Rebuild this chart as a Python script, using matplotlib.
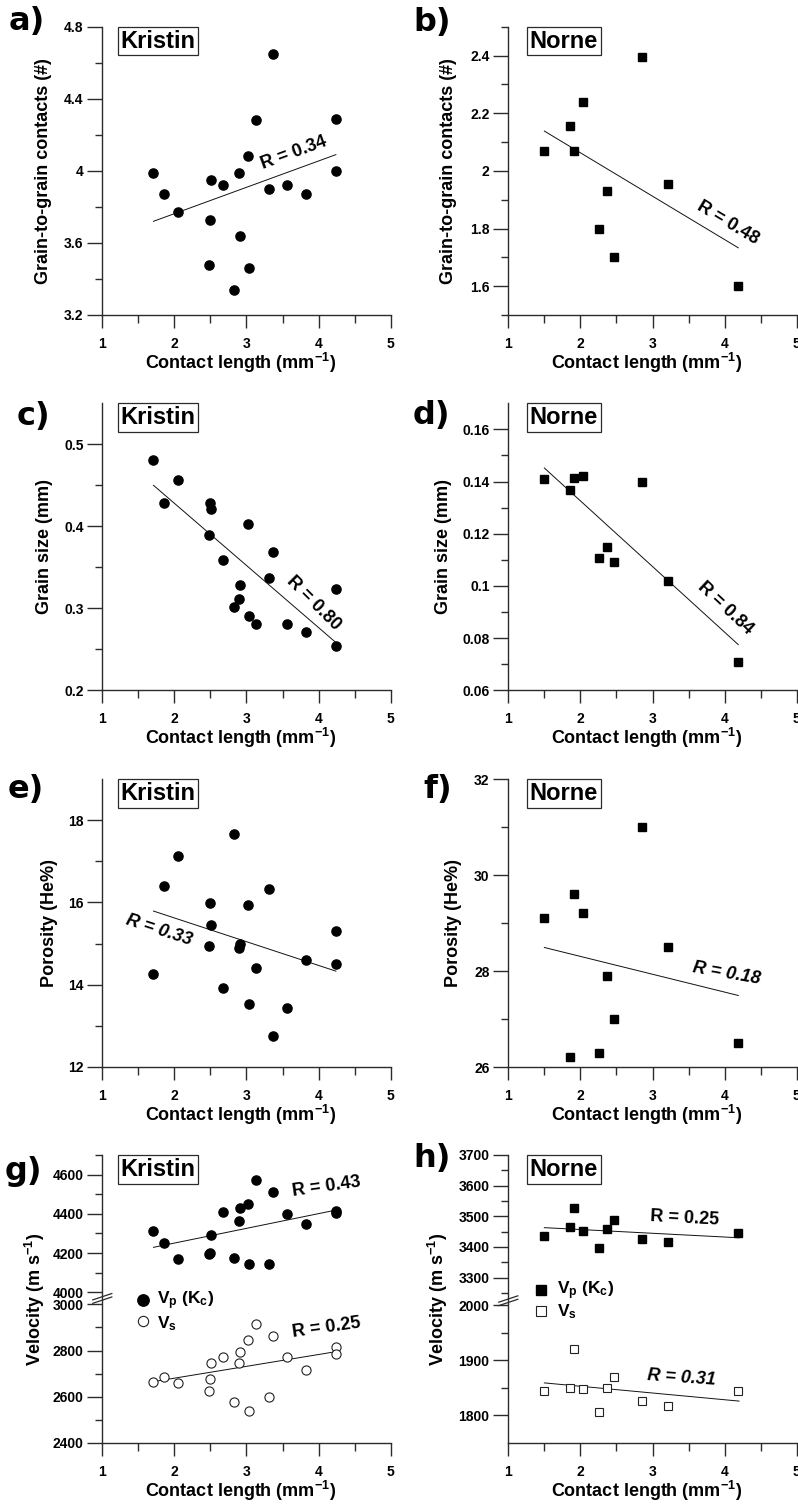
import numpy as np
import matplotlib
matplotlib.use("Agg")
import matplotlib.pyplot as plt

plt.rcParams['font.family'] = ['Liberation Sans', 'DejaVu Sans']
plt.rcParams['font.weight'] = 'bold'
plt.rcParams['mathtext.fontset'] = 'custom'
plt.rcParams['mathtext.rm'] = 'Liberation Sans:bold'
plt.rcParams['mathtext.bf'] = 'Liberation Sans:bold'
plt.rcParams['mathtext.it'] = 'Liberation Sans:italic:bold'
plt.rcParams['mathtext.default'] = 'bf'

# ---------------- data ----------------
kristin_cl = [1.71, 1.85, 2.05, 2.48, 2.49, 2.51, 2.68, 2.83, 2.89, 2.91,
              3.02, 3.03, 3.13, 3.31, 3.37, 3.56, 3.82, 4.24, 4.24]
kristin_contacts = [3.99, 3.87, 3.77, 3.48, 3.73, 3.95, 3.92, 3.34, 3.99, 3.64,
                    4.08, 3.46, 4.28, 3.90, 4.65, 3.92, 3.87, 4.29, 4.00]
kristin_grain = [0.481, 0.428, 0.456, 0.389, 0.429, 0.421, 0.359, 0.301, 0.311, 0.328,
                 0.403, 0.290, 0.281, 0.337, 0.369, 0.281, 0.271, 0.324, 0.254]
kristin_poro = [14.26, 16.41, 17.14, 14.93, 15.98, 15.44, 13.91, 17.67, 14.89, 14.99,
                15.93, 13.53, 14.41, 16.32, 12.76, 13.43, 14.60, 15.30, 14.51]
kristin_vp = [4311, 4249, 4168, 4195, 4200, 4294, 4408, 4175, 4362, 4431,
              4450, 4146, 4570, 4144, 4511, 4399, 4350, 4414, 4406]
kristin_vs = [2663, 2685, 2659, 2627, 2678, 2745, 2771, 2577, 2748, 2794,
              2845, 2538, 2915, 2598, 2862, 2770, 2717, 2816, 2783]

norne_cl = [1.50, 1.86, 1.91, 2.03, 2.26, 2.37, 2.47, 2.85, 3.21, 4.19]
norne_contacts = [2.07, 2.155, 2.07, 2.24, 1.80, 1.93, 1.70, 2.395, 1.955, 1.60]
norne_grain = [0.1409, 0.1368, 0.1414, 0.1423, 0.1108, 0.1148, 0.1093, 0.1400, 0.1020, 0.0710]
norne_poro = [29.1, 26.2, 29.6, 29.2, 26.3, 27.9, 27.0, 31.0, 28.5, 26.5]
norne_vp = [3435, 3465, 3528, 3451, 3398, 3459, 3489, 3425, 3416, 3447]
norne_vs = [1845, 1849, 1920, 1848, 1806, 1850, 1869, 1827, 1817, 1844]

# regression lines (end points)
fit_a = ([1.71, 4.24], [3.72, 4.09])
fit_b = ([1.50, 4.19], [2.138, 1.733])
fit_c = ([1.71, 4.23], [0.450, 0.259])
fit_d = ([1.50, 4.19], [0.1452, 0.0775])
fit_e = ([1.71, 4.24], [15.79, 14.33])
fit_f = ([1.50, 4.19], [28.49, 27.49])
fit_g_vp = ([1.71, 4.24], [4229, 4419])
fit_g_vs = ([1.70, 4.24], [2665, 2795])
fit_h_vp = ([1.50, 4.20], [3463, 3430])
fit_h_vs = ([1.50, 4.20], [1859, 1826])

x_ticks = [1, 2, 3, 4, 5]
x_minor = [1.5, 2.5, 3.5, 4.5]
x_label = r"Contact length (mm$^{\mathbf{-1}}$)"

# ---------------- figure ----------------
W, H = 798, 1506
fig = plt.figure(figsize=(W / 100, H / 100), dpi=100)
fig.patch.set_facecolor('white')

col_left = [102.3, 508.3]
col_w = 288.4
rows = [(26.7, 315.0), (403.3, 690.3), (779.0, 1067.0), (1155.0, 1443.0)]
SPC = '#2b2b2b'


def make_ax(col, row):
    l = col_left[col]
    t, b = rows[row]
    return fig.add_axes([l / W, 1 - b / H, col_w / W, (b - t) / H])


def piecewise(vals, pos):
    vals = np.asarray(vals, float)
    pos = np.asarray(pos, float)

    def mk(a, b):
        s0 = (b[1] - b[0]) / (a[1] - a[0])
        s1 = (b[-1] - b[-2]) / (a[-1] - a[-2])

        def f(y):
            y = np.asarray(y, float)
            out = np.interp(y, a, b)
            out = np.where(y < a[0], b[0] + (y - a[0]) * s0, out)
            out = np.where(y > a[-1], b[-1] + (y - a[-1]) * s1, out)
            return out
        return f
    return mk(vals, pos), mk(pos, vals)


def style(ax, ylim, yticks, ylabels, yminor, ylabel, ylab_x):
    for s in ['top', 'right']:
        ax.spines[s].set_visible(False)
    for s in ['left', 'bottom']:
        ax.spines[s].set_linewidth(1.0)
        ax.spines[s].set_color(SPC)
    ax.set_xlim(1, 5)
    ax.set_ylim(*ylim)
    ax.set_xticks(x_ticks)
    ax.set_xticklabels([str(v) for v in x_ticks], fontweight='bold')
    ax.set_xticks(x_minor, minor=True)
    ax.set_yticks(yticks)
    ax.set_yticklabels(ylabels, fontweight='bold')
    ax.set_yticks(yminor, minor=True)
    ax.tick_params(axis='both', which='both', color=SPC, width=1.0, direction='out')
    ax.tick_params(axis='y', which='major', length=10.5, pad=3, labelsize=10)
    ax.tick_params(axis='y', which='minor', length=5)
    ax.tick_params(axis='x', which='major', length=9.5, pad=6, labelsize=10)
    ax.tick_params(axis='x', which='minor', length=5.5)
    ax.set_xlabel(x_label, fontsize=13, fontweight='bold')
    ax.xaxis.set_label_coords(0.48, -0.165)
    ax.xaxis.label.set_va('center')
    ax.set_ylabel(ylabel, fontsize=13, fontweight='bold')
    ax.yaxis.set_label_coords(ylab_x, 0.5)
    ax.yaxis.label.set_va('center')


def site_box(ax, name):
    ax.text(0.193, 0.95, name, transform=ax.transAxes, fontsize=17, fontweight='bold',
            ha='center', va='center',
            bbox=dict(boxstyle='square,pad=0.12', fc='white', ec=SPC, lw=0.9))


def rlabel(ax, x, y, txt, rot, italic=False):
    ax.text(x, y, txt, fontsize=13, fontweight='bold', rotation=rot,
            rotation_mode='anchor', ha='center', va='center',
            style='italic' if italic else 'normal')


def fitline(ax, fit):
    ax.plot(fit[0], fit[1], color='#111111', lw=0.7, zorder=2)


def circles(ax, x, y, filled=True, ms=6.6):
    if filled:
        ax.plot(x, y, 'o', ms=ms, color='black', mec='black', ls='none', zorder=3)
    else:
        ax.plot(x, y, 'o', ms=ms, mfc='white', mec='#222222', mew=0.8, ls='none', zorder=3)


def squares(ax, x, y, filled=True, ms=6.4):
    if filled:
        ax.plot(x, y, 's', ms=ms, color='black', mec='black', ls='none', zorder=3)
    else:
        ax.plot(x, y, 's', ms=ms, mfc='white', mec='#222222', mew=0.8, ls='none', zorder=3)


def break_mark(ax, yfrac):
    for dy in (-0.006, 0.006):
        ax.plot([-0.033, 0.033], [yfrac - 0.011 + dy, yfrac + 0.011 + dy],
                transform=ax.transAxes, color=SPC, lw=0.9, clip_on=False, zorder=5)


# ---- a ----
ax = make_ax(0, 0)
style(ax, (3.2, 4.8), [3.2, 3.6, 4.0, 4.4, 4.8], ['3.2', '3.6', '4', '4.4', '4.8'],
      [3.4, 3.8, 4.2, 4.6], 'Grain-to-grain contacts (#)', -0.205)
fitline(ax, fit_a)
circles(ax, kristin_cl, kristin_contacts)
site_box(ax, 'Kristin')
rlabel(ax, 3.65, 4.10, 'R = 0.34', 20)

# ---- b ----
ax = make_ax(1, 0)
style(ax, (1.5, 2.5), [1.6, 1.8, 2.0, 2.2, 2.4], ['1.6', '1.8', '2', '2.2', '2.4'],
      [1.5, 1.7, 1.9, 2.1, 2.3, 2.5], 'Grain-to-grain contacts (#)', -0.208)
fitline(ax, fit_b)
squares(ax, norne_cl, norne_contacts)
site_box(ax, 'Norne')
rlabel(ax, 4.05, 1.82, 'R = 0.48', -31)

# ---- c ----
ax = make_ax(0, 1)
style(ax, (0.2, 0.55), [0.2, 0.3, 0.4, 0.5], ['0.2', '0.3', '0.4', '0.5'],
      [0.25, 0.35, 0.45], 'Grain size (mm)', -0.199)
fitline(ax, fit_c)
circles(ax, kristin_cl, kristin_grain)
site_box(ax, 'Kristin')
rlabel(ax, 3.93, 0.306, 'R = 0.80', -45)

# ---- d ----
ax = make_ax(1, 1)
style(ax, (0.06, 0.17), [0.06, 0.08, 0.10, 0.12, 0.14, 0.16],
      ['0.06', '0.08', '0.1', '0.12', '0.14', '0.16'],
      [0.07, 0.09, 0.11, 0.13, 0.15], 'Grain size (mm)', -0.225)
fitline(ax, fit_d)
squares(ax, norne_cl, norne_grain)
site_box(ax, 'Norne')
rlabel(ax, 4.01, 0.0915, 'R = 0.84', -43)

# ---- e ----
ax = make_ax(0, 2)
style(ax, (12, 19), [12, 14, 16, 18], ['12', '14', '16', '18'],
      [13, 15, 17], 'Porosity (He%)', -0.184)
fitline(ax, fit_e)
circles(ax, kristin_cl, kristin_poro)
site_box(ax, 'Kristin')
rlabel(ax, 1.79, 15.32, 'R = 0.33', -18, italic=True)

# ---- f ----
ax = make_ax(1, 2)
style(ax, (26, 32), [26, 28, 30, 32], ['26', '28', '30', '32'],
      [27, 29, 31], 'Porosity (He%)', -0.191)
fitline(ax, fit_f)
squares(ax, norne_cl, norne_poro)
site_box(ax, 'Norne')
rlabel(ax, 4.03, 27.94, 'R = 0.18', -10, italic=True)

# ---- g ----
ax = make_ax(0, 3)
fwd, inv = piecewise([2400, 3000, 4000, 4700], [0, 138.6, 150.6, 287.7])
ax.set_yscale('function', functions=(fwd, inv))
g_major = [2400, 2600, 2800, 3000, 4000, 4200, 4400, 4600]
style(ax, (2400, 4700), g_major, [str(v) for v in g_major],
      [2500, 2700, 2900, 4100, 4300, 4500, 4700], r'Velocity (m s$^{\mathbf{-1}}$)', -0.233)
fitline(ax, fit_g_vp)
fitline(ax, fit_g_vs)
circles(ax, kristin_cl, kristin_vp)
circles(ax, kristin_cl, kristin_vs, filled=False)
site_box(ax, 'Kristin')
rlabel(ax, 4.11, 4538, 'R = 0.43', 8)
rlabel(ax, 4.11, 2900, 'R = 0.25', 8)
break_mark(ax, 0.502)
ax.plot([0.142], [0.4965], 'o', ms=8.2, color='black', transform=ax.transAxes, clip_on=False)
ax.plot([0.142], [0.425], 'o', ms=7.4, mfc='white', mec='#222222', mew=0.8,
        transform=ax.transAxes, clip_on=False)
ax.text(0.189, 0.481, r'V$_\mathbf{p}$ (K$_\mathbf{c}$)', transform=ax.transAxes,
        fontsize=12.5, fontweight='bold', ha='left', va='baseline')
ax.text(0.189, 0.398, r'V$_\mathbf{s}$', transform=ax.transAxes,
        fontsize=12.5, fontweight='bold', ha='left', va='baseline')

# ---- h ----
ax = make_ax(1, 3)
fwd, inv = piecewise([1750, 2000, 3250, 3700], [0, 138.0, 150.2, 288.3])
ax.set_yscale('function', functions=(fwd, inv))
h_major = [1800, 1900, 2000, 3300, 3400, 3500, 3600, 3700]
style(ax, (1750, 3700), h_major, [str(v) for v in h_major],
      [1850, 1950, 3250, 3350, 3450, 3550, 3650], r'Velocity (m s$^{\mathbf{-1}}$)', -0.243)
fitline(ax, fit_h_vp)
fitline(ax, fit_h_vs)
squares(ax, norne_cl, norne_vp)
squares(ax, norne_cl, norne_vs, filled=False)
site_box(ax, 'Norne')
rlabel(ax, 3.44, 3492, 'R = 0.25', -3)
rlabel(ax, 3.40, 1868, 'R = 0.31', -4, italic=True)
break_mark(ax, 0.494)
ax.plot([0.113], [0.532], 's', ms=7.4, color='black', transform=ax.transAxes, clip_on=False)
ax.plot([0.113], [0.460], 's', ms=7.0, mfc='white', mec='#222222', mew=0.8,
        transform=ax.transAxes, clip_on=False)
ax.text(0.168, 0.515, r'V$_\mathbf{p}$ (K$_\mathbf{c}$)', transform=ax.transAxes,
        fontsize=12.5, fontweight='bold', ha='left', va='baseline')
ax.text(0.168, 0.440, r'V$_\mathbf{s}$', transform=ax.transAxes,
        fontsize=12.5, fontweight='bold', ha='left', va='baseline')

# ---- panel letters ----
panel_letters = ['a)', 'b)', 'c)', 'd)', 'e)', 'f)', 'g)', 'h)']
letter_pos = [(9, 30), (413, 31.5), (16.7, 425), (413, 424),
              (8, 798), (423, 798), (5, 1180), (413, 1166.5)]
for lt, (px, py) in zip(panel_letters, letter_pos):
    fig.text(px / W, 1 - py / H, lt, fontsize=23, fontweight='bold',
             family='DejaVu Sans', ha='left', va='baseline')

fig.savefig('out.png', dpi=100, facecolor='white')
